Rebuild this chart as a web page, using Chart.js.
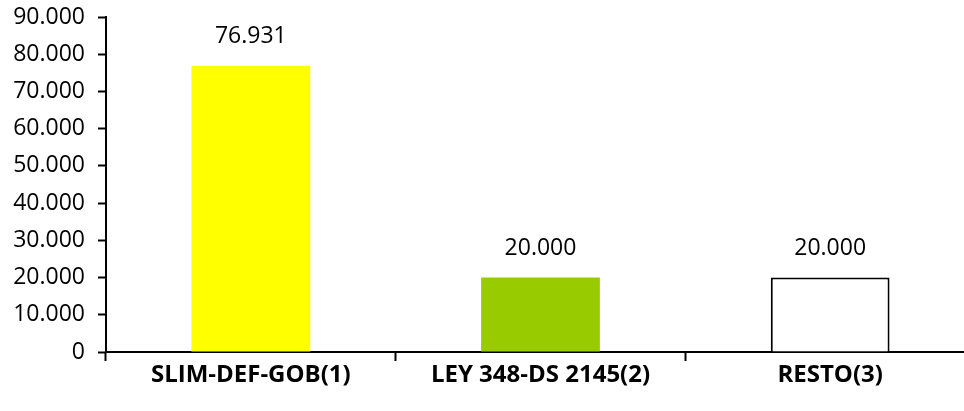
<!DOCTYPE html>
<html>
<head>
<meta charset="utf-8">
<script src="https://cdn.jsdelivr.net/npm/chart.js@4"></script>
<style>
  html, body { margin: 0; padding: 0; background: #fff; overflow: hidden; }
  #wrap { width: 975px; height: 411px; position: relative; }
</style>
</head>
<body>
<div id="wrap"><canvas id="chart"></canvas></div>
<script>
// Chart data
const categories = ['SLIM-DEF-GOB(1)', 'LEY 348-DS 2145(2)', 'RESTO(3)'];
const values = [76931, 20000, 20000];
const barColors = ['#FFFF00', '#99CC00', '#FFFFFF'];
const barBorders = ['#FFFF00', '#99CC00', '#000000'];
const yTicks = [0, 10000, 20000, 30000, 40000, 50000, 60000, 70000, 80000, 90000];

const FONT = "'Open Sans', 'Noto Sans', sans-serif";

// Format numbers with a dot as thousands separator
function formatNum(v) {
    return String(Math.round(v)).replace(/\B(?=(\d{3})+(?!\d))/g, '.');
}

// Draw value labels above the bars
const valueLabels = {
    id: 'valueLabels',
    afterDatasetsDraw(chart) {
        const ctx = chart.ctx;
        const meta = chart.getDatasetMeta(0);
        ctx.save();
        ctx.font = '23px ' + FONT;
        ctx.fillStyle = '#000';
        ctx.textAlign = 'center';
        ctx.textBaseline = 'middle';
        meta.data.forEach((bar, i) => {
            ctx.fillText(formatNum(values[i]), bar.x, bar.y - 29);
        });
        ctx.restore();
    }
};

const ctx = document.getElementById('chart').getContext('2d');
new Chart(ctx, {
    type: 'bar',
    data: {
        labels: categories,
        datasets: [{
            data: values,
            backgroundColor: barColors,
            borderColor: barBorders,
            borderWidth: [0, 0, 2],
            categoryPercentage: 1,
            barPercentage: 0.41
        }]
    },
    options: {
        responsive: true,
        maintainAspectRatio: false,
        animation: false,
        layout: { padding: { top: 17, right: 0, bottom: 0, left: 0 } },
        plugins: {
            legend: { display: false },
            tooltip: { enabled: false }
        },
        scales: {
            x: {
                offset: true,
                grid: {
                    offset: true,
                    drawOnChartArea: false,
                    drawTicks: true,
                    tickLength: 9,
                    tickWidth: 2,
                    tickColor: '#000'
                },
                border: { color: '#000', width: 2 },
                ticks: {
                    color: '#000',
                    font: { family: FONT, size: 24, weight: 'bold' },
                    padding: 0
                },
                afterFit(scale) { scale.height = 59; }
            },
            y: {
                min: 0,
                max: 90000,
                afterBuildTicks(scale) {
                    scale.ticks = yTicks.map(v => ({ value: v }));
                },
                grid: {
                    drawOnChartArea: false,
                    drawTicks: true,
                    tickLength: 8,
                    tickWidth: 2,
                    tickColor: '#000'
                },
                border: { color: '#000', width: 2 },
                ticks: {
                    color: '#000',
                    font: { family: FONT, size: 23 },
                    padding: 13,
                    callback: (v) => formatNum(v)
                },
                afterFit(scale) {
                    scale.width = 106;
                    scale.paddingTop = 0;
                    scale.paddingBottom = 0;
                }
            }
        }
    },
    plugins: [valueLabels]
});
</script>
</body>
</html>
